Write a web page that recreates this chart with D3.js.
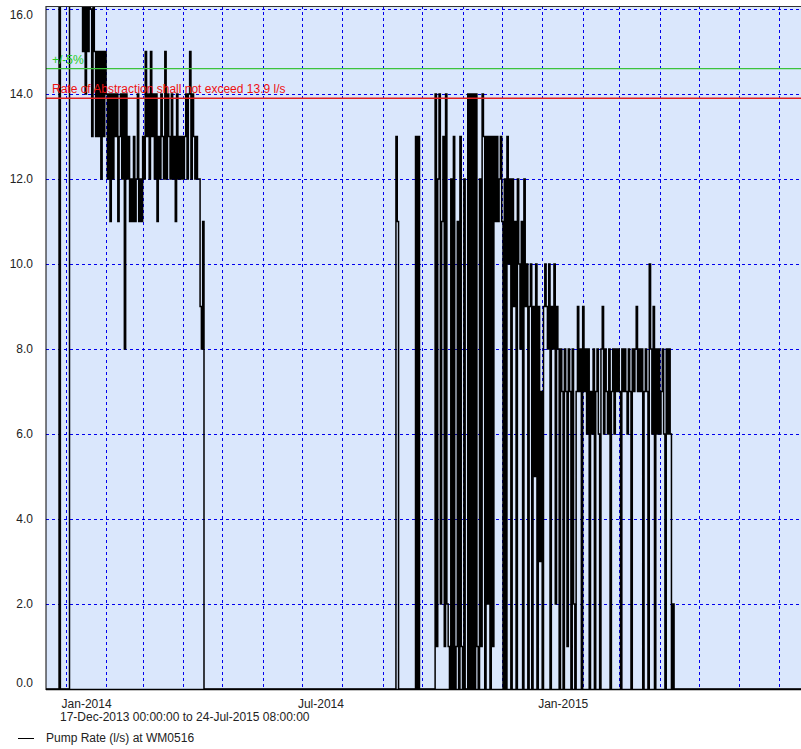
<!DOCTYPE html>
<html><head><meta charset="utf-8">
<script src="https://cdn.jsdelivr.net/npm/d3@7"></script>
<style>
body{margin:0;background:#fff;font-family:"Liberation Sans",Arial,sans-serif;}
text{font-family:"Liberation Sans",Arial,sans-serif;}
</style></head>
<body><div class="vis-pump"></div>
<script>
// daily pump readings (l/s), first block starts 17-Dec-2013
const startA = "2013-12-17";
const pumpA = [0,0,0,0,0,0,0,0,0,0,
  17,0,0,0,0,0,0,0,
  17,17,17,17,17,17,17,17,17,17,
  15,17,14,17,15,17,16,13,17,15,
  13,15,13,15,12,15,13,15,
  14,12,14,11,14,12,14,13,14,11,13,14,12,14,
  8,14,12,13,11,12,11,13,11,12,14,11,12,11,13,12,
  15,13,14,12,15,13,14,12,14,11,13,12,14,13,12,
  15,12,14,13,12,14,12,13,11,14,12,13,12,13,12,
  13,14,12,14,15,12,14,13,12,13,12,12,
  9,8,11,0];
// second block starts 07-Sep-2014
const startB = "2014-09-07";
const pumpB = [0,0,0,0,
  13,11,0,0,
  0,0,0,0,0,0,0,0,0,0,0,
  13,0,13,0,
  0,0,0,0,0,0,0,0,0,0,0,
  14,1,12,14,2,11,13,1,14,2,
  1,0,12,0,13,0,1,11,0,13,1,0,12,0,0,
  14,0,14,0,14,0,14,
  1,0,12,1,
  14,13,0,13,2,13,0,13,1,
  13,11,13,11,12,13,11,0,
  12,0,13,10,12,0,12,9,11,0,12,10,8,11,0,12,9,
  10,0,9,10,0,9,5,10,0,9,
  3,7,0,9,
  10,9,8,10,0,9,8,10,2,9,8,0,
  8,7,0,8,7,1,8,7,0,8,
  2,0,7,
  9,7,8,0,9,7,8,
  6,8,0,7,6,8,0,7,8,6,0,8,
  9,6,8,7,6,8,0,7,8,6,8,
  7,8,7,0,8,7,8,7,6,8,7,0,8,7,8,9,7,8,7,8,0,7,8,
  7,0,10,
  8,6,9,0,8,6,8,6,7,8,6,0,8,6,8,6,
  0,2,0,0];
const endDate = "2015-07-24T08:00";
const yTicks = [0,2,4,6,8,10,12,14,16];
const limit = 13.9;
const tolerance = 0.05;
const labelTicks = ["2014-01-01","2014-07-01","2015-01-01"];

const width = 801, height = 749;
const margin = {top: 6, left: 46, bottom: 689};
const parse = d3.timeParse("%Y-%m-%d");

const toSeries = (start, vals) => vals.map((v,i) => ({t: d3.timeDay.offset(parse(start), i), v}));
const series = toSeries(startA, pumpA).concat(toSeries(startB, pumpB));
series.push({t: new Date(endDate), v: 0});

const x = d3.scaleTime()
  .domain([parse(startA), new Date(endDate)])
  .range([margin.left, 809]);
const y = d3.scaleLinear().domain([0,16]).range([689, 9]);

const svg = d3.select('.vis-pump').append('svg')
  .attr('width', width).attr('height', height);

svg.append('defs').append('clipPath').attr('id','clip')
  .append('rect').attr('x', margin.left).attr('y', margin.top)
  .attr('width', width - margin.left).attr('height', margin.bottom - margin.top);

svg.append('rect').attr('x', margin.left).attr('y', margin.top)
  .attr('width', width - margin.left).attr('height', margin.bottom - margin.top)
  .attr('fill', '#dae7fc');

// grid
const months = d3.timeMonth.range(d3.timeMonth.ceil(x.domain()[0]), x.domain()[1]);
svg.append('g').selectAll('line').data(months).join('line')
  .attr('x1', d => Math.round(x(d)) + 0.5).attr('x2', d => Math.round(x(d)) + 0.5)
  .attr('y1', margin.top).attr('y2', margin.bottom)
  .attr('stroke', '#0000ee').attr('stroke-dasharray', '3,3').attr('stroke-width', 1);
svg.append('g').selectAll('line').data(yTicks.slice(1)).join('line')
  .attr('x1', margin.left).attr('x2', width)
  .attr('y1', d => Math.round(y(d)) + 0.5).attr('y2', d => Math.round(y(d)) + 0.5)
  .attr('stroke', '#0000ee').attr('stroke-dasharray', '3,3');

// data
const line = d3.line().x(d => x(d.t)).y(d => y(d.v)).curve(d3.curveStepAfter);
svg.append('path').datum(series)
  .attr('clip-path', 'url(#clip)')
  .attr('d', line).attr('fill', 'none')
  .attr('stroke', '#000').attr('stroke-width', 1.5);

// limit lines
const g = svg.append('g');
g.append('line').attr('x1', margin.left).attr('x2', width)
  .attr('y1', y(limit*(1+tolerance))).attr('y2', y(limit*(1+tolerance)))
  .attr('stroke', '#3cc33c').attr('stroke-width', 1.3);
g.append('line').attr('x1', margin.left).attr('x2', width)
  .attr('y1', y(limit)).attr('y2', y(limit))
  .attr('stroke', '#e02020').attr('stroke-width', 1.3);
g.append('text').attr('x', 52).attr('y', y(limit*(1+tolerance)) - 5)
  .attr('fill', '#22cc22').attr('font-size', 12).text('+/-5%');
g.append('text').attr('x', 52).attr('y', y(limit) - 5)
  .attr('fill', '#ee1111').attr('font-size', 12)
  .text('Rate of Abstraction shall not exceed 13.9 l/s');

// axes frame
svg.append('line').attr('x1', margin.left).attr('x2', margin.left)
  .attr('y1', margin.top).attr('y2', margin.bottom + 1).attr('stroke', '#000');
svg.append('line').attr('x1', margin.left).attr('x2', width)
  .attr('y1', margin.bottom + 0.5).attr('y2', margin.bottom + 0.5).attr('stroke', '#000').attr('stroke-width', 1.5);
svg.append('line').attr('x1', margin.left).attr('x2', width)
  .attr('y1', margin.top + 0.5).attr('y2', margin.top + 0.5).attr('stroke', '#333');

svg.append('g').selectAll('text').data(yTicks).join('text')
  .attr('x', 33).attr('y', d => Math.min(683, Math.max(15, y(d))) + 4)
  .attr('text-anchor', 'end').attr('font-size', 12).attr('fill', '#222')
  .text(d => d.toFixed(1));

svg.append('g').selectAll('text').data(labelTicks.map(parse)).join('text')
  .attr('x', d => x(d) - 4).attr('y', 708)
  .attr('font-size', 12).attr('fill', '#222')
  .text(d3.timeFormat('%b-%Y'));

svg.append('text').attr('x', 60).attr('y', 721).attr('font-size', 12).attr('fill', '#222')
  .text('17-Dec-2013 00:00:00 to 24-Jul-2015 08:00:00');
svg.append('line').attr('x1', 18).attr('x2', 34).attr('y1', 738.5).attr('y2', 738.5).attr('stroke', '#000');
svg.append('text').attr('x', 46).attr('y', 742).attr('font-size', 12).attr('fill', '#222')
  .text('Pump Rate (l/s) at WM0516');
</script></body></html>
